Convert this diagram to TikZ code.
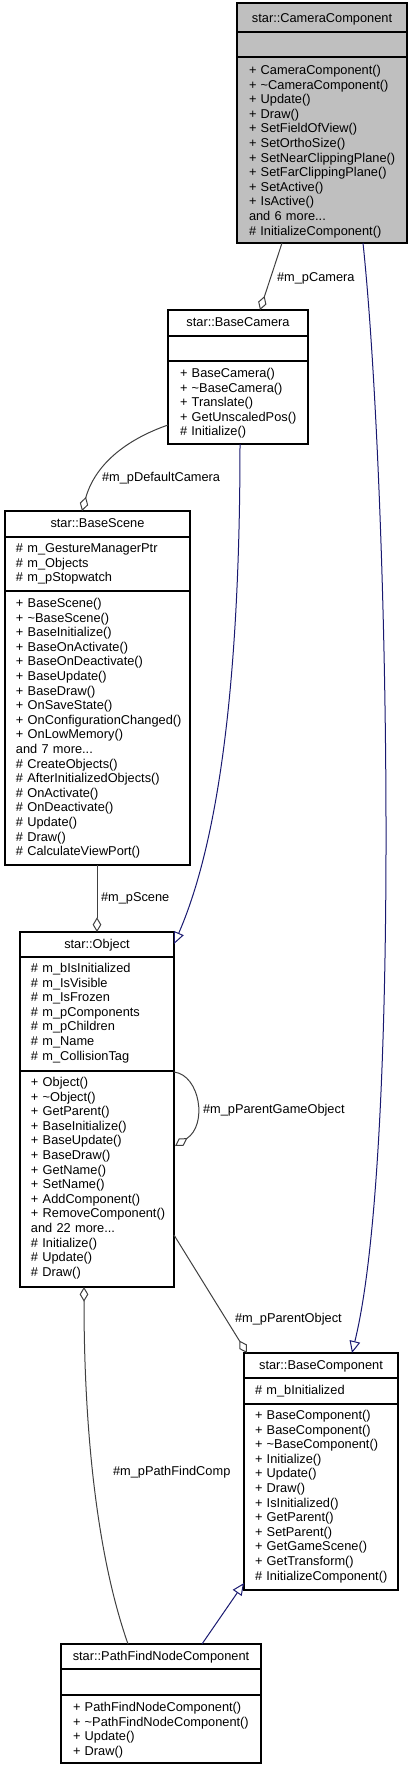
\documentclass[tikz,border=0pt]{standalone}
\usepackage{fontspec}
\setmainfont{Liberation Sans}
\usetikzlibrary{arrows.meta,fit,calc}
\definecolor{edgegray}{RGB}{64,64,64}
\definecolor{inhblue}{RGB}{25,25,112}
\definecolor{boxgray}{RGB}{191,191,191}
\begin{document}
\begin{tikzpicture}[x=0.75pt,y=-0.75pt,
  every node/.style={font=\fontsize{9.6}{10.95}\selectfont, inner sep=0pt, outer sep=0pt},
  classbox/.style={draw=black, line width=0.9pt, inner sep=0pt, outer sep=0pt, fill=white},
  sepline/.style={draw=black, line width=0.9pt},
  members/.style={align=left, anchor=base west, text width=140pt},
  ctitle/.style={anchor=base},
  assoc/.style={draw=edgegray, line width=0.75pt, -{Diamond[open, length=11pt, width=6.5pt, line width=0.75pt]}},
  inherit/.style={draw=inhblue, line width=0.75pt, -{Triangle[open, length=9pt, width=8pt, line width=0.75pt]}},
  elabel/.style={anchor=base west}
]
\useasboundingbox (0,0) rectangle (412,1771);

% ---------- star::CameraComponent
\node[classbox, fill=boxgray, fit={(237,3)(407,243)}] (cam) {};
\draw[sepline] (237,32) -- (407,32);
\draw[sepline] (237,57) -- (407,57);
\node[ctitle] (camT) at (322,22.5) {star::CameraComponent};
\node[members] (camM) at (249,74.5) {+ CameraComponent()\\+ \textasciitilde CameraComponent()\\+ Update()\\+ Draw()\\+ SetFieldOfView()\\+ SetOrthoSize()\\+ SetNearClippingPlane()\\+ SetFarClippingPlane()\\+ SetActive()\\+ IsActive()\\and 6 more...\\\# InitializeComponent()};

% ---------- star::BaseCamera
\node[classbox, fit={(168,310)(308,444)}] (bcam) {};
\draw[sepline] (168,336) -- (308,336);
\draw[sepline] (168,361) -- (308,361);
\node[ctitle] (bcamT) at (238,326.5) {star::BaseCamera};
\node[members] (bcamM) at (180,377.5) {+ BaseCamera()\\+ \textasciitilde BaseCamera()\\+ Translate()\\+ GetUnscaledPos()\\\# Initialize()};

% ---------- star::BaseScene
\node[classbox, fit={(5,511)(190,865)}] (scene) {};
\draw[sepline] (5,537) -- (190,537);
\draw[sepline] (5,591) -- (190,591);
\node[ctitle] (sceneT) at (97.5,527.5) {star::BaseScene};
\node[members] (sceneA) at (16,552.5) {\# m\_GestureManagerPtr\\\# m\_Objects\\\# m\_pStopwatch};
\node[members] (sceneM) at (16,607.5) {+ BaseScene()\\+ \textasciitilde BaseScene()\\+ BaseInitialize()\\+ BaseOnActivate()\\+ BaseOnDeactivate()\\+ BaseUpdate()\\+ BaseDraw()\\+ OnSaveState()\\+ OnConfigurationChanged()\\+ OnLowMemory()\\and 7 more...\\\# CreateObjects()\\\# AfterInitializedObjects()\\\# OnActivate()\\\# OnDeactivate()\\\# Update()\\\# Draw()\\\# CalculateViewPort()};

% ---------- star::Object
\node[classbox, fit={(20,932)(174,1287)}] (obj) {};
\draw[sepline] (20,957) -- (174,957);
\draw[sepline] (20,1071) -- (174,1071);
\node[ctitle] (objT) at (97,948.5) {star::Object};
\node[members] (objA) at (31,972.5) {\# m\_bIsInitialized\\\# m\_IsVisible\\\# m\_IsFrozen\\\# m\_pComponents\\\# m\_pChildren\\\# m\_Name\\\# m\_CollisionTag};
\node[members] (objM) at (31,1086.5) {+ Object()\\+ \textasciitilde Object()\\+ GetParent()\\+ BaseInitialize()\\+ BaseUpdate()\\+ BaseDraw()\\+ GetName()\\+ SetName()\\+ AddComponent()\\+ RemoveComponent()\\and 22 more...\\\# Initialize()\\\# Update()\\\# Draw()};

% ---------- star::BaseComponent
\node[classbox, fit={(244,1353)(398,1590)}] (bcomp) {};
\draw[sepline] (244,1378) -- (398,1378);
\draw[sepline] (244,1404) -- (398,1404);
\node[ctitle] (bcompT) at (321,1369.5) {star::BaseComponent};
\node[members] (bcompA) at (255,1394.5) {\# m\_bInitialized};
\node[members] (bcompM) at (255,1419.5) {+ BaseComponent()\\+ BaseComponent()\\+ \textasciitilde BaseComponent()\\+ Initialize()\\+ Update()\\+ Draw()\\+ IsInitialized()\\+ GetParent()\\+ SetParent()\\+ GetGameScene()\\+ GetTransform()\\\# InitializeComponent()};

% ---------- star::PathFindNodeComponent
\node[classbox, fit={(61,1644)(261,1763)}] (pf) {};
\draw[sepline] (61,1669) -- (261,1669);
\draw[sepline] (61,1695) -- (261,1695);
\node[ctitle] (pfT) at (161,1660.5) {star::PathFindNodeComponent};
\node[members] (pfM) at (73,1711.5) {+ PathFindNodeComponent()\\+ \textasciitilde PathFindNodeComponent()\\+ Update()\\+ Draw()};

% ---------- connectors
\draw[assoc] ($(cam.south west)+(45,0)$) -- ($(bcam.north west)+(92,0)$);
\node[elabel] (lcam) at (277,281.5) {\#m\_pCamera};

\draw[assoc] ($(bcam.north west)+(0,115)$) .. controls (125,440) and (95,465) .. ($(scene.north west)+(77,0)$);
\node[elabel] (ldef) at (102,481.5) {\#m\_pDefaultCamera};

\draw[inherit] ($(bcam.south west)+(72,0)$) .. controls (240,700) and (215,850) .. ($(obj.north east)+(0,12)$);

\draw[assoc] ($(scene.south west)+(92,0)$) -- ($(obj.north west)+(77,0)$);
\node[elabel] (lscene) at (101,901.5) {\#m\_pScene};

\draw[assoc] ($(obj.north east)+(0,140)$) .. controls (200,1075) and (208,1125) .. ($(obj.north east)+(1,214)$);
\node[elabel] (lpgo) at (203,1113.5) {\#m\_pParentGameObject};

\draw[assoc] ($(obj.north east)+(0,303)$) -- ($(bcomp.north west)+(3,0)$);
\node[elabel] (lpo) at (235,1322.5) {\#m\_pParentObject};

\draw[inherit] ($(cam.south west)+(126,0)$) .. controls (388,480) and (402,1150) .. ($(bcomp.north west)+(108,0)$);

\draw[inherit] ($(pf.north west)+(141,0)$) -- ($(bcomp.south west)+(0,-7)$);

\draw[assoc] ($(pf.north west)+(67,0)$) .. controls (95,1550) and (84,1420) .. ($(obj.south west)+(64,0)$);
\node[elabel] (lpfc) at (113,1475.5) {\#m\_pPathFindComp};
\end{tikzpicture}
\end{document}
